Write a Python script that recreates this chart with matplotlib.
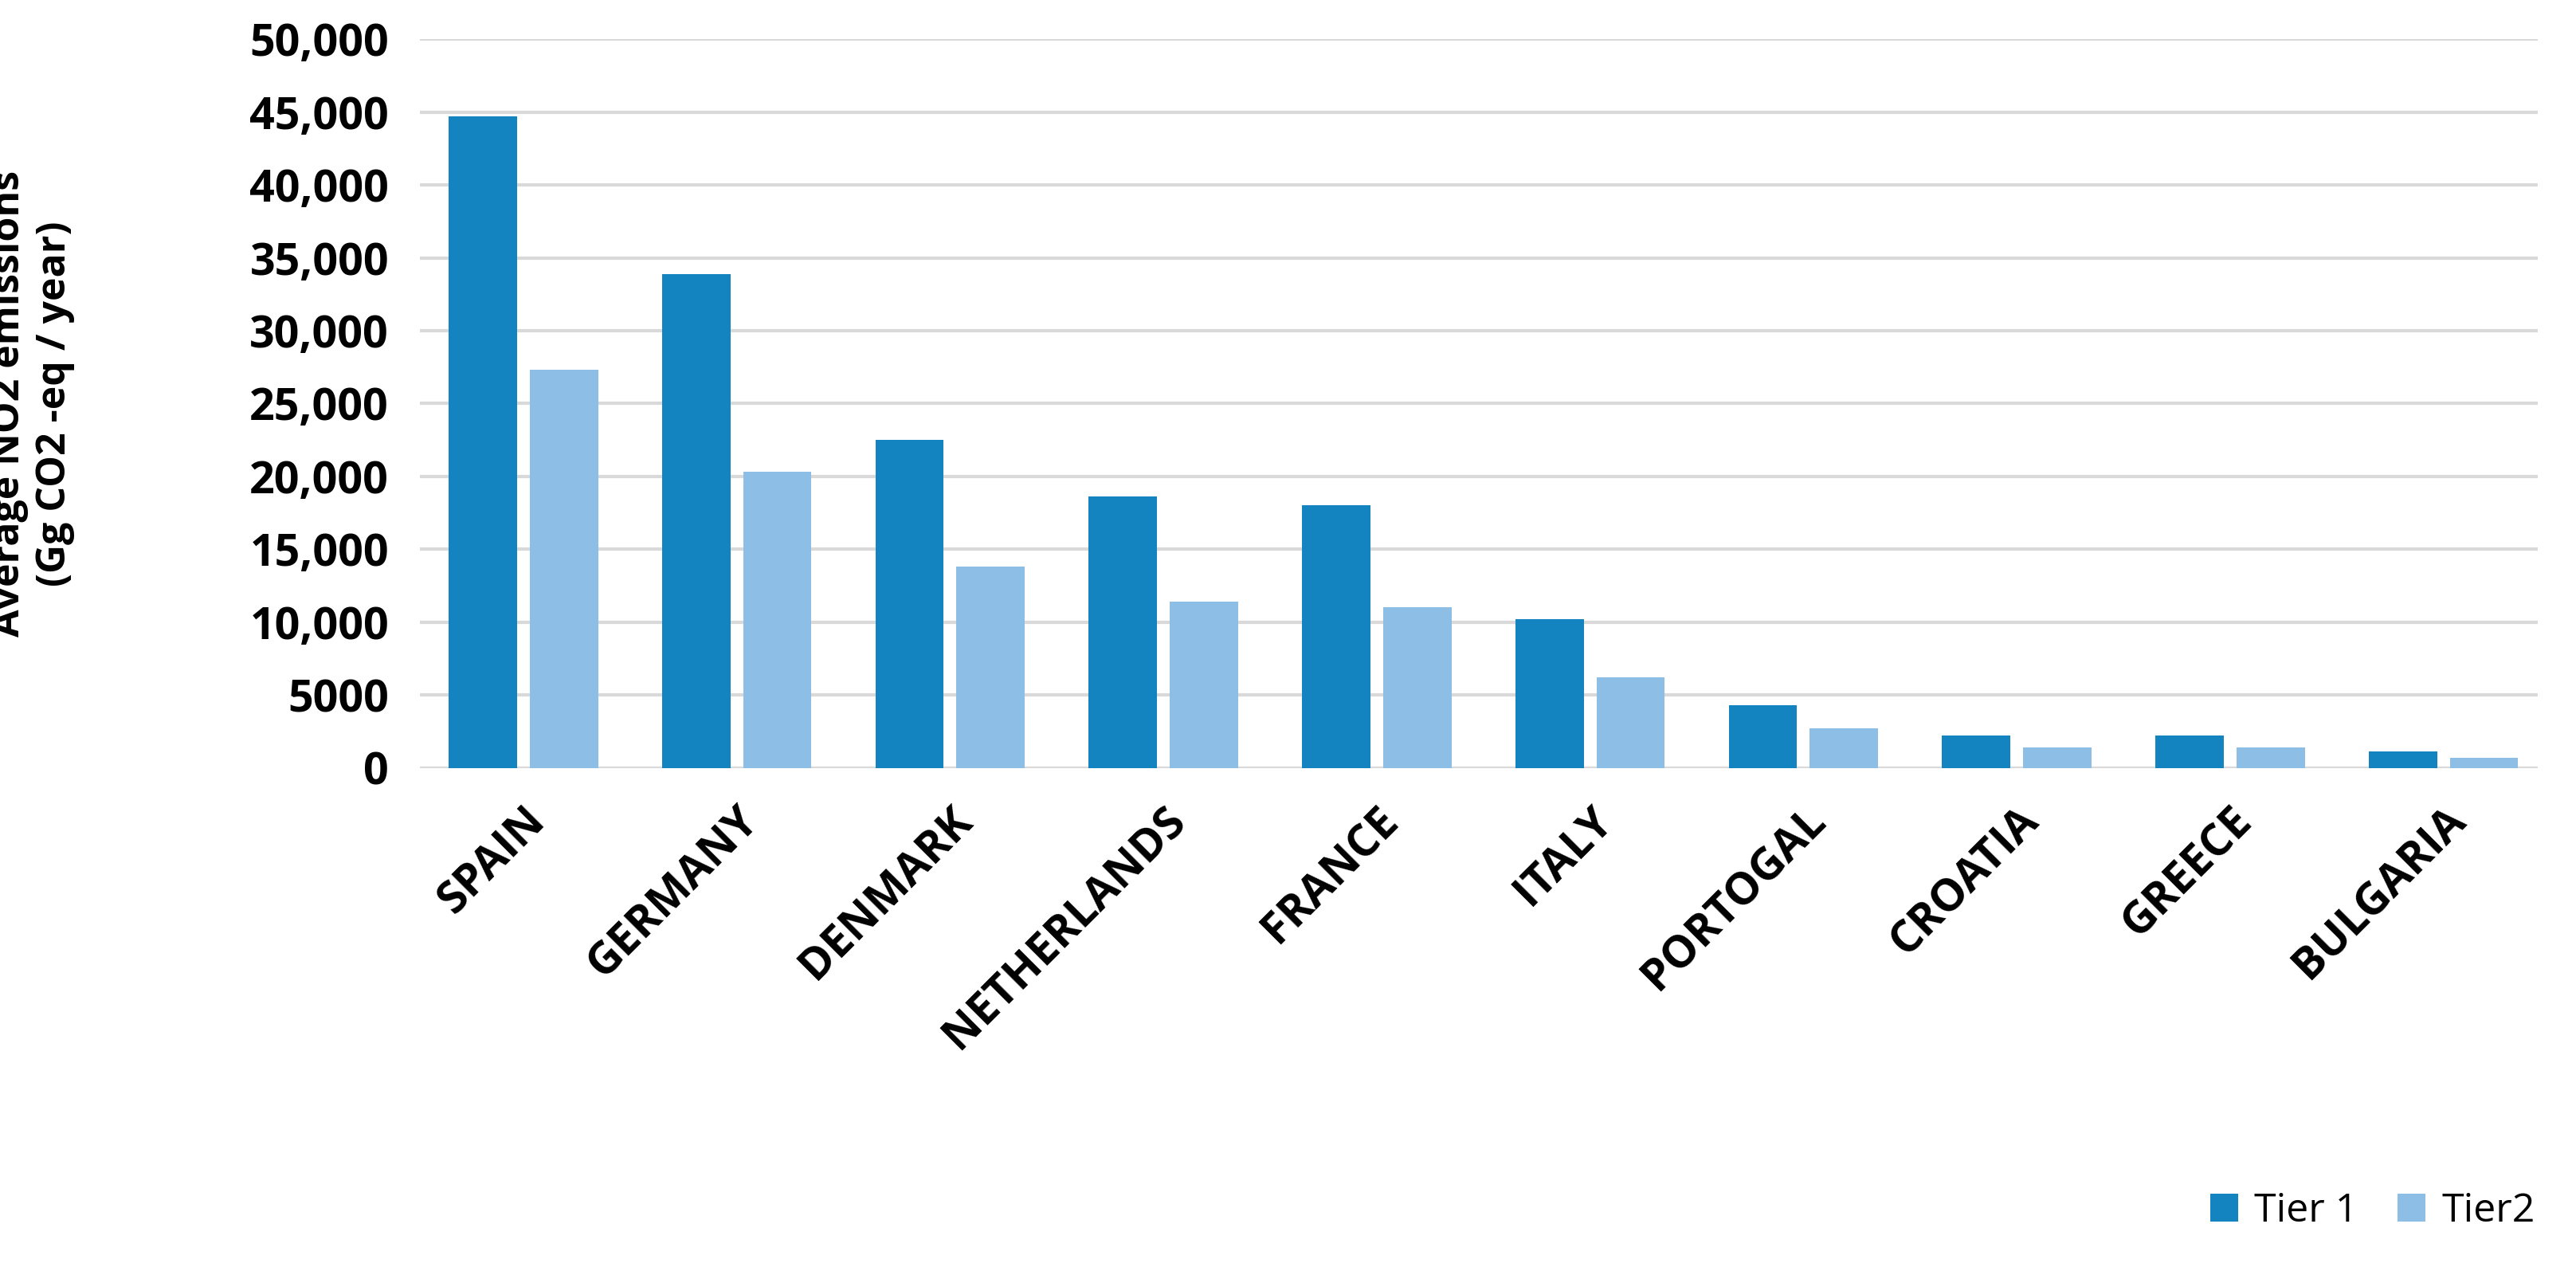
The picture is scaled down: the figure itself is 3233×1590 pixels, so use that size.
import matplotlib
matplotlib.use("Agg")
import matplotlib.pyplot as plt
import numpy as np
from matplotlib.ticker import FuncFormatter

countries = ["SPAIN", "GERMANY", "DENMARK", "NETHERLANDS", "FRANCE", "ITALY",
             "PORTOGAL", "CROATIA", "GREECE", "BULGARIA"]
tier1 = [44700, 33900, 22500, 18600, 18000, 10200, 4300, 2200, 2200, 1100]
tier2 = [27300, 20300, 13800, 11400, 11000, 6200, 2700, 1400, 1400, 700]

plt.rcParams['font.family'] = ['Open Sans', 'DejaVu Sans']
fig = plt.figure(figsize=(16.165, 7.95), dpi=200)
ax = fig.add_axes([0.163, 0.394, 0.822, 0.575])
x = np.arange(len(countries))
w = 0.32
ax.bar(x - 0.19, tier1, w, color="#1384c0", label="Tier 1", zorder=3)
ax.bar(x + 0.19, tier2, w, color="#8dbfe6", label="Tier2", zorder=3)
ax.set_ylim(0, 50000)
ax.set_xlim(-0.485, len(countries) - 0.56)
ax.set_yticks(np.arange(0, 50001, 5000))
ax.yaxis.set_major_formatter(FuncFormatter(lambda v, p: "0" if v == 0 else ("5000" if v == 5000 else f"{int(v):,}")))
ax.grid(axis="y", color="#d9d9d9", linewidth=1.5, zorder=0)
for s in ax.spines.values():
    s.set_visible(False)
ax.tick_params(length=0, labelsize=20)
ax.tick_params(axis="y", pad=14)
for t in ax.get_yticklabels():
    t.set_fontweight("bold")
ax.set_xticks(x)
ax.set_xticklabels(countries, rotation=45, ha="right", rotation_mode="anchor",
                   fontsize=20, fontweight="bold")
ax.tick_params(axis="x", pad=14)
ax.set_ylabel("Average NO2 emissions\n(Gg CO2 -eq / year)", fontsize=18, fontweight="bold")
ax.yaxis.set_label_coords(-0.163, 0.5)
fig.legend(loc="lower right", bbox_to_anchor=(0.998, 0.0), ncol=2, frameon=False,
           fontsize=18, handlelength=0.7, handleheight=0.7, handletextpad=0.4, columnspacing=1.0)
fig.savefig("out.png", dpi=200)
